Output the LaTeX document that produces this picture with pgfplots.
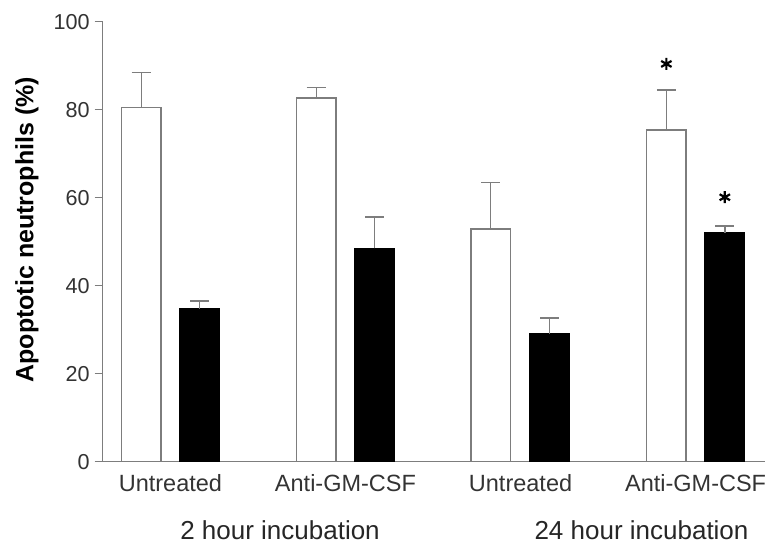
\documentclass[border=0pt]{standalone}
\usepackage{pgfplots}
\pgfplotsset{compat=1.18}
\usepackage{fontspec}
\setmainfont{Liberation Sans}
\definecolor{linegray}{RGB}{125,125,125}

\begin{document}
\begin{tikzpicture}
\useasboundingbox (-51.35pt,-41.15pt) rectangle (332.65pt,230.85pt);
\begin{axis}[
  at={(0,0)}, anchor=south west,
  scale only axis, width=331.2pt, height=220pt,
  xmin=-0.387, xmax=3.397, ymin=0, ymax=100,
  axis x line=bottom, axis y line=left,
  axis line style={-, linegray, line width=0.8pt},
  ytick={0,20,...,100},
  tick align=outside, major tick length=4pt,
  ytick style={linegray, line width=0.8pt},
  xtick={0,1,2,3},
  xticklabels={Untreated,Anti-GM-CSF,Untreated,Anti-GM-CSF},
  xtick style={draw=none},
  xticklabel style={font=\fontsize{11.75}{13}\selectfont, yshift=1.2pt, text=black!80},
  yticklabel style={font=\fontsize{10.8}{12}\selectfont, xshift=1pt, text=black!80},
  /pgf/number format/assume math mode=true,
  ylabel={Apoptotic neutrophils (\%)},
  ylabel style={font=\bfseries\fontsize{12.5}{14}\selectfont,
    at={(axis description cs:-0.1144,0.527)}, anchor=center},
  bar width=0.226,
  clip=false,
]
% white bars
\addplot[ybar, bar shift=0pt, fill=white, draw=linegray, line width=0.7pt,
  error bars/.cd, y dir=plus, y explicit,
  error bar style={linegray, line width=0.7pt},
  error mark options={rotate=90, linegray, mark size=4.8pt, line width=0.7pt}]
  coordinates {
  (-0.167,80.5) +- (0,8.0)
  (0.833,82.7)  +- (0,2.4)
  (1.830,52.9)  +- (0,10.5)
  (2.833,75.4)  +- (0,9.1)
};
% black bars
\addplot[ybar, bar shift=0pt, fill=black, draw=black, line width=0.7pt,
  error bars/.cd, y dir=plus, y explicit,
  error bar style={linegray, line width=0.7pt},
  error mark options={rotate=90, linegray, mark size=4.8pt, line width=0.7pt}]
  coordinates {
  (0.167,34.8) +- (0,1.7)
  (1.167,48.5) +- (0,7.1)
  (2.167,29.0) +- (0,3.7)
  (3.167,52.0) +- (0,1.6)
};
% significance stars
\addplot[only marks, mark=asterisk, mark size=3pt, line width=1.1pt, black]
  coordinates {(2.833,90.4) (3.167,60.1)};

\node[font=\fontsize{13}{15}\selectfont, text=black!85, yshift=-34.2pt]
  at (axis cs:0.626,0) {2 hour incubation};
\node[font=\fontsize{13}{15}\selectfont, text=black!85, yshift=-34.2pt]
  at (axis cs:2.691,0) {24 hour incubation};
\end{axis}
\end{tikzpicture}
\end{document}
